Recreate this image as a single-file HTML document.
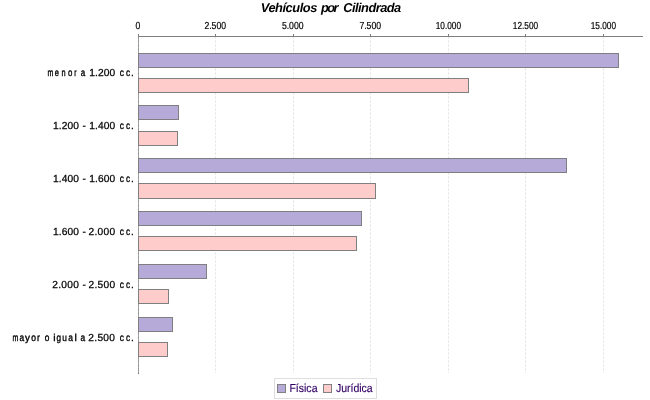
<!DOCTYPE html>
<html>
<head>
<meta charset="utf-8">
<title>Vehículos por Cilindrada</title>
<style>
html,body{margin:0;padding:0;background:#fff;}
body{width:650px;height:400px;overflow:hidden;font-family:"Liberation Sans",sans-serif;}
svg{display:block;will-change:transform;}
text{font-family:"Liberation Sans",sans-serif;text-rendering:geometricPrecision;}
.grid line{stroke:#c0c0c0;stroke-width:0.5;stroke-dasharray:2 2;}
.axis line{stroke:#7f7f7f;stroke-width:1;shape-rendering:crispEdges;}
.title{font-size:12.8px;font-weight:bold;font-style:italic;fill:#000;}
.bars rect{stroke:#7f7f7f;stroke-width:1;}
.f{fill:#b6abd8;}
.j{fill:#ffcccc;}
.tick text{font-size:10.2px;fill:#000;stroke:#000;stroke-width:0.2px;}
.cat text{font-size:10.2px;fill:#000;stroke:#000;stroke-width:0.25px;white-space:pre;} .cat tspan.l{stroke-width:0.35px;}
.leg text{font-size:11.6px;fill:#330066;stroke:#330066;stroke-width:0.15px;}
</style>
</head>
<body>
<svg width="650" height="400" viewBox="0 0 650 400">
<rect x="0" y="0" width="650" height="400" fill="#ffffff"/>
<text class="title" y="11.7"><tspan x="260.8" textLength="56.5" lengthAdjust="spacing">Vehículos</tspan> <tspan x="321.0" textLength="17.4" lengthAdjust="spacing">por</tspan> <tspan x="343.2" textLength="58.0" lengthAdjust="spacing">Cilindrada</tspan></text>

<g class="grid">
<line x1="215.5" y1="36.5" x2="215.5" y2="373.2"/>
<line x1="293.5" y1="36.5" x2="293.5" y2="373.2"/>
<line x1="370.5" y1="36.5" x2="370.5" y2="373.2"/>
<line x1="448.5" y1="36.5" x2="448.5" y2="373.2"/>
<line x1="525.5" y1="36.5" x2="525.5" y2="373.2"/>
<line x1="603.5" y1="36.5" x2="603.5" y2="373.2"/>
</g>

<g class="axis">
<line x1="138" y1="36.5" x2="643" y2="36.5"/>
<line x1="138.5" y1="34" x2="138.5" y2="37" /><line x1="138.5" y1="37" x2="138.5" y2="373" style="stroke:#a6a6a6"/><line x1="138.5" y1="36.5" x2="138.5" y2="373" style="stroke:#8e8e8e;stroke-dasharray:2 2;shape-rendering:auto"/><line x1="138.5" y1="373" x2="138.5" y2="374" style="stroke:#727272"/>
<line x1="215.5" y1="34" x2="215.5" y2="37"/>
<line x1="293.5" y1="34" x2="293.5" y2="37"/>
<line x1="370.5" y1="34" x2="370.5" y2="37"/>
<line x1="448.5" y1="34" x2="448.5" y2="37"/>
<line x1="525.5" y1="34" x2="525.5" y2="37"/>
<line x1="603.5" y1="34" x2="603.5" y2="37"/>
</g>

<g class="tick">
<text x="135.60" y="29" textLength="4.8" lengthAdjust="spacingAndGlyphs">0</text>
<text x="204.40" y="29" textLength="21.7" lengthAdjust="spacingAndGlyphs">2.500</text>
<text x="281.90" y="29" textLength="21.7" lengthAdjust="spacingAndGlyphs">5.000</text>
<text x="359.40" y="29" textLength="21.7" lengthAdjust="spacingAndGlyphs">7.500</text>
<text x="435.70" y="29" textLength="25.3" lengthAdjust="spacingAndGlyphs">10.000</text>
<text x="512.80" y="29" textLength="25.3" lengthAdjust="spacingAndGlyphs">12.500</text>
<text x="590.70" y="29" textLength="25.3" lengthAdjust="spacingAndGlyphs">15.000</text>
</g>

<g class="bars">
<rect class="f" x="138.5" y="53.5" width="480" height="14"/>
<rect class="j" x="138.5" y="78.5" width="330" height="14"/>
<rect class="f" x="138.5" y="105.5" width="40" height="14"/>
<rect class="j" x="138.5" y="131.5" width="39" height="14"/>
<rect class="f" x="138.5" y="158.5" width="428" height="14"/>
<rect class="j" x="138.5" y="183.5" width="237" height="15"/>
<rect class="f" x="138.5" y="211.5" width="223" height="14"/>
<rect class="j" x="138.5" y="236.5" width="218" height="14"/>
<rect class="f" x="138.5" y="264.5" width="68" height="14"/>
<rect class="j" x="138.5" y="289.5" width="30" height="14"/>
<rect class="f" x="138.5" y="317.5" width="34" height="14"/>
<rect class="j" x="138.5" y="342.5" width="29" height="14"/>
</g>

<g class="cat">
<text y="76"><tspan class="l" x="47.57" textLength="5.85" lengthAdjust="spacingAndGlyphs">m</tspan><tspan class="l" x="54.82" textLength="4.17" lengthAdjust="spacingAndGlyphs">e</tspan><tspan class="l" x="61.45" textLength="4.08" lengthAdjust="spacingAndGlyphs">n</tspan><tspan class="l" x="67.91" textLength="4.38" lengthAdjust="spacingAndGlyphs">o</tspan><tspan class="l" x="74.27" textLength="2.31" lengthAdjust="spacingAndGlyphs">r</tspan> <tspan class="l" x="80.80" textLength="4.46" lengthAdjust="spacingAndGlyphs">a</tspan> <tspan x="89.22" textLength="25.98" lengthAdjust="spacing">1.200</tspan> <tspan class="l" x="119.68" textLength="4.20" lengthAdjust="spacingAndGlyphs">c</tspan><tspan class="l" x="125.89" textLength="4.08" lengthAdjust="spacingAndGlyphs">c</tspan><tspan x="131.03" textLength="2.83" lengthAdjust="spacingAndGlyphs">.</tspan></text>
<text y="129"><tspan x="53.02" textLength="25.88" lengthAdjust="spacing">1.200</tspan> <tspan x="82.45" textLength="3.40" lengthAdjust="spacingAndGlyphs">-</tspan> <tspan x="89.22" textLength="25.98" lengthAdjust="spacing">1.400</tspan> <tspan class="l" x="119.68" textLength="4.20" lengthAdjust="spacingAndGlyphs">c</tspan><tspan class="l" x="125.89" textLength="4.08" lengthAdjust="spacingAndGlyphs">c</tspan><tspan x="131.03" textLength="2.83" lengthAdjust="spacingAndGlyphs">.</tspan></text>
<text y="182"><tspan x="53.02" textLength="25.88" lengthAdjust="spacing">1.400</tspan> <tspan x="82.45" textLength="3.40" lengthAdjust="spacingAndGlyphs">-</tspan> <tspan x="89.22" textLength="25.98" lengthAdjust="spacing">1.600</tspan> <tspan class="l" x="119.68" textLength="4.20" lengthAdjust="spacingAndGlyphs">c</tspan><tspan class="l" x="125.89" textLength="4.08" lengthAdjust="spacingAndGlyphs">c</tspan><tspan x="131.03" textLength="2.83" lengthAdjust="spacingAndGlyphs">.</tspan></text>
<text y="235"><tspan x="53.02" textLength="25.88" lengthAdjust="spacing">1.600</tspan> <tspan x="82.45" textLength="3.40" lengthAdjust="spacingAndGlyphs">-</tspan> <tspan x="88.39" textLength="26.81" lengthAdjust="spacing">2.000</tspan> <tspan class="l" x="119.68" textLength="4.20" lengthAdjust="spacingAndGlyphs">c</tspan><tspan class="l" x="125.89" textLength="4.08" lengthAdjust="spacingAndGlyphs">c</tspan><tspan x="131.03" textLength="2.83" lengthAdjust="spacingAndGlyphs">.</tspan></text>
<text y="288"><tspan x="52.29" textLength="26.61" lengthAdjust="spacing">2.000</tspan> <tspan x="82.45" textLength="3.40" lengthAdjust="spacingAndGlyphs">-</tspan> <tspan x="88.39" textLength="26.81" lengthAdjust="spacing">2.500</tspan> <tspan class="l" x="119.68" textLength="4.20" lengthAdjust="spacingAndGlyphs">c</tspan><tspan class="l" x="125.89" textLength="4.08" lengthAdjust="spacingAndGlyphs">c</tspan><tspan x="131.03" textLength="2.83" lengthAdjust="spacingAndGlyphs">.</tspan></text>
<text y="341"><tspan class="l" x="12.57" textLength="5.85" lengthAdjust="spacingAndGlyphs">m</tspan><tspan class="l" x="19.38" textLength="4.68" lengthAdjust="spacingAndGlyphs">a</tspan><tspan class="l" x="25.12" textLength="4.96" lengthAdjust="spacingAndGlyphs">y</tspan><tspan class="l" x="31.28" textLength="4.74" lengthAdjust="spacingAndGlyphs">o</tspan><tspan class="l" x="37.05" textLength="2.96" lengthAdjust="spacingAndGlyphs">r</tspan> <tspan class="l" x="44.79" textLength="4.62" lengthAdjust="spacingAndGlyphs">o</tspan> <tspan class="l" x="53.24" textLength="2.33" lengthAdjust="spacingAndGlyphs">i</tspan><tspan class="l" x="56.59" textLength="4.60" lengthAdjust="spacingAndGlyphs">g</tspan><tspan class="l" x="62.30" textLength="4.61" lengthAdjust="spacingAndGlyphs">u</tspan><tspan class="l" x="68.28" textLength="4.68" lengthAdjust="spacingAndGlyphs">a</tspan><tspan class="l" x="74.43" textLength="2.33" lengthAdjust="spacingAndGlyphs">l</tspan> <tspan class="l" x="80.58" textLength="4.68" lengthAdjust="spacingAndGlyphs">a</tspan> <tspan x="88.29" textLength="26.71" lengthAdjust="spacing">2.500</tspan> <tspan class="l" x="119.68" textLength="4.20" lengthAdjust="spacingAndGlyphs">c</tspan><tspan class="l" x="125.89" textLength="4.08" lengthAdjust="spacingAndGlyphs">c</tspan><tspan x="131.03" textLength="2.83" lengthAdjust="spacingAndGlyphs">.</tspan></text>
</g>

<g class="leg">
<rect x="274.5" y="378.5" width="102" height="20" fill="#fff" stroke="#dedede" stroke-width="1"/>
<rect x="277.5" y="384.5" width="8" height="8" fill="#b6abd8" stroke="#808080" stroke-width="1"/>
<text x="289.4" y="392" textLength="28.1" lengthAdjust="spacingAndGlyphs">Física</text>
<rect x="323.5" y="384.5" width="8" height="8" fill="#ffcccc" stroke="#808080" stroke-width="1"/>
<text x="335.9" y="392" textLength="36.8" lengthAdjust="spacingAndGlyphs">Jurídica</text>
</g>
</svg>
</body>
</html>
